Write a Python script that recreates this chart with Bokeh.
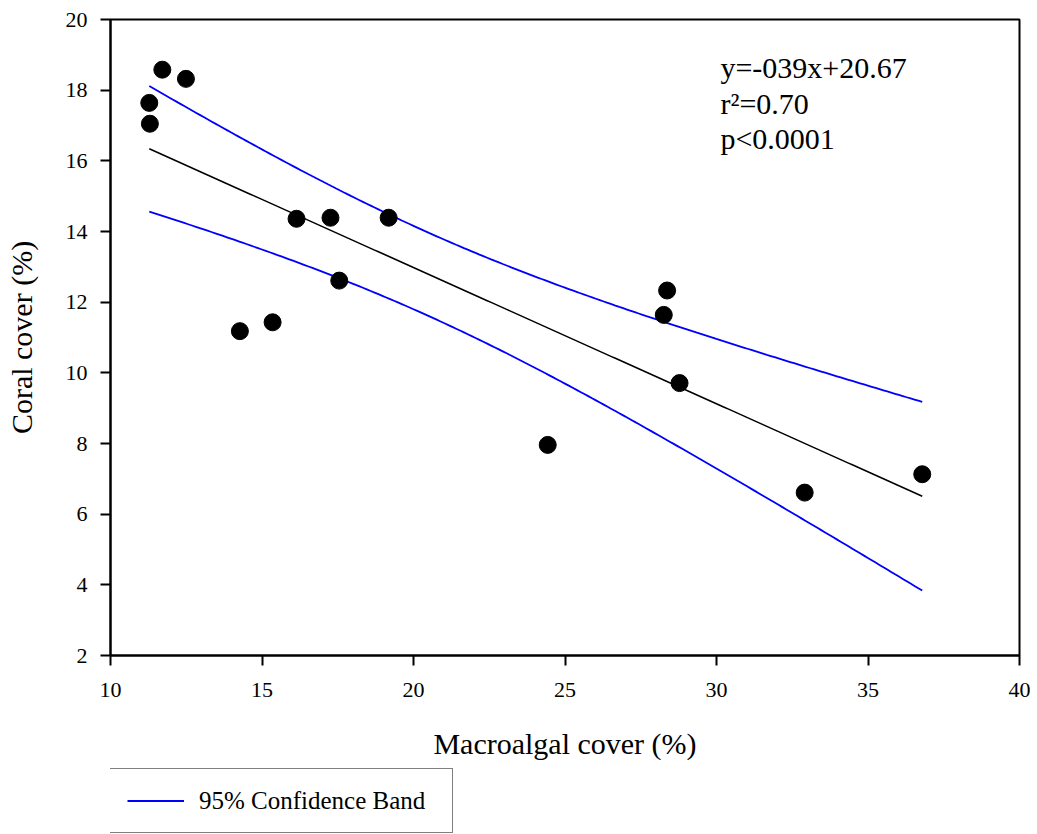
import numpy as np
from bokeh.plotting import figure
from bokeh.layouts import column
from bokeh.models import Range1d, FixedTicker, Legend, LegendItem, Label, LinearAxis
from bokeh.embed import file_html
from bokeh.resources import INLINE

# ---- data ----
macroalgal_cover = [11.28, 11.30, 11.71, 12.49, 14.27, 15.35, 16.14, 17.26,
                    17.55, 19.18, 24.43, 28.26, 28.37, 28.78, 32.91, 36.79]
coral_cover = [17.64, 17.05, 18.58, 18.32, 11.18, 11.43, 14.36, 14.39,
               12.61, 14.39, 7.96, 11.64, 12.33, 9.71, 6.61, 7.13]
x_ticks = [10, 15, 20, 25, 30, 35, 40]
y_ticks = [2, 4, 6, 8, 10, 12, 14, 16, 18, 20]
stats_lines = ["y=-039x+20.67", "r\u00b2=0.70", "p<0.0001"]
legend_label = "95% Confidence Band"
x_title = "Macroalgal cover (%)"
y_title = "Coral cover (%)"
T_975_14 = 2.1448  # Student t, 95% two-sided, 14 d.f.

# ---- regression and 95% confidence band (from the data) ----
xa = np.array(macroalgal_cover)
ya = np.array(coral_cover)
n = len(xa)
slope, intercept = np.polyfit(xa, ya, 1)
resid = ya - (slope * xa + intercept)
s = np.sqrt(np.sum(resid ** 2) / (n - 2))
sxx = np.sum((xa - xa.mean()) ** 2)
xf = np.linspace(xa.min(), xa.max(), 200)
yf = slope * xf + intercept
hw = T_975_14 * s * np.sqrt(1.0 / n + (xf - xa.mean()) ** 2 / sxx)

FONT = "Liberation Serif"

p = figure(width=1037, height=765, output_backend="svg", toolbar_location=None,
           x_range=Range1d(10, 40), y_range=Range1d(2, 20),
           x_axis_type=None, y_axis_type=None,
           min_border_left=110, min_border_right=18, min_border_top=19,
           min_border_bottom=110)
p.outline_line_color = "black"
p.outline_line_width = 2
p.background_fill_color = "white"
p.border_fill_color = "white"

axis_style = dict(
    axis_line_width=2, axis_line_color="black",
    major_tick_line_width=2, major_tick_line_color="black",
    major_tick_in=0, major_tick_out=10,
    minor_tick_line_color=None,
    major_label_text_font=FONT, major_label_text_font_size="22px",
    major_label_text_font_style="normal", major_label_text_color="black",
    axis_label_text_font=FONT, axis_label_text_font_size="30px",
    axis_label_text_font_style="normal", axis_label_text_color="black",
)
xaxis = LinearAxis(ticker=FixedTicker(ticks=x_ticks), axis_label=x_title,
                   major_label_standoff=17, axis_label_standoff=27, **axis_style)
yaxis = LinearAxis(ticker=FixedTicker(ticks=y_ticks), axis_label=y_title,
                   major_label_standoff=13, axis_label_standoff=25, **axis_style)
p.add_layout(xaxis, "below")
p.add_layout(yaxis, "left")

# regression line
p.line(xf, yf, line_color="black", line_width=1.5)
# confidence band
p.line(xf, yf + hw, line_color="#0000ff", line_width=1.8)
p.line(xf, yf - hw, line_color="#0000ff", line_width=1.8)
# points
p.scatter(macroalgal_cover, coral_cover, size=17, color="black")

# statistics text
for i, t in enumerate(stats_lines):
    p.add_layout(Label(x=30.13, y=18.63, y_offset=-35.5 * i, text=t,
                       text_font=FONT, text_font_size="30px",
                       text_color="black", text_baseline="alphabetic",
                       text_align="left"))

# legend strip below the chart
q = figure(width=1037, height=69, output_backend="svg", toolbar_location=None,
           x_range=Range1d(0, 1), y_range=Range1d(0, 1),
           x_axis_type=None, y_axis_type=None,
           min_border_left=0, min_border_right=0, min_border_top=0,
           min_border_bottom=0)
q.outline_line_color = None
q.xgrid.visible = False
q.ygrid.visible = False
q.background_fill_color = "white"
q.border_fill_color = "white"
band_key = q.line(x=[-1, -2], y=[-1, -2], line_color="#0000ff", line_width=1.8)
legend = Legend(items=[LegendItem(label=legend_label, renderers=[band_key])],
                location=(-1, 1), orientation="vertical",
                padding=17, spacing=0, margin=0,
                glyph_width=57, glyph_height=29, label_height=29,
                label_width=236, label_standoff=15,
                label_text_font=FONT, label_text_font_size="25px",
                label_text_font_style="normal",
                label_text_color="black",
                border_line_color="black", border_line_width=1.5,
                background_fill_color="white", background_fill_alpha=1.0)
q.add_layout(legend, "center")

layout = column(p, q, spacing=0)
open("out.html", "w").write(file_html(layout, INLINE))
